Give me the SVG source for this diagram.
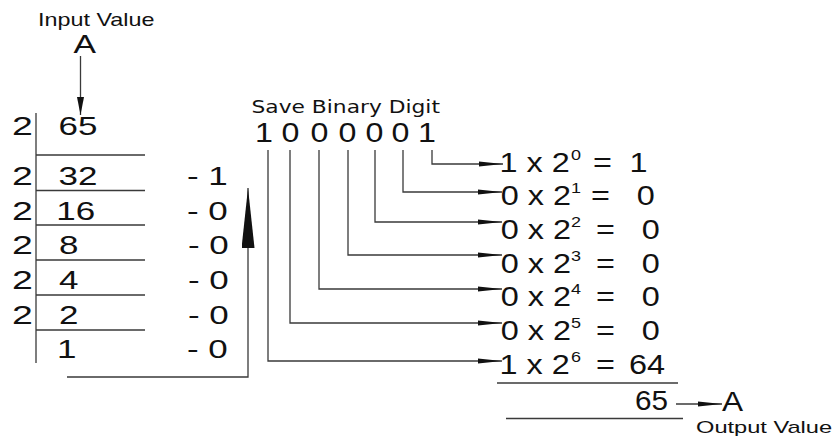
<svg xmlns="http://www.w3.org/2000/svg" width="836" height="438" viewBox="0 0 836 438">
  <style>
    .t { font-family: "Liberation Sans", Arial, Helvetica, sans-serif; fill: #111; }
    .dv { font-family: "DejaVu Sans", Verdana, sans-serif; fill: #111; font-size: 18px; }
    .lbl { font-size: 19px; }
    .lbl2 { font-size: 17px; }
    .big { font-size: 25px; }
    .eq { font-size: 27px; }
    .sup { font-size: 15px; }
    .rule { stroke: #3a3a3a; stroke-width: 1.3; fill: none; }
    .wire { stroke: #3a3a3a; stroke-width: 1.3; fill: none; }
  </style>
  <defs>
    <marker id="dart" viewBox="0 0 24 6" refX="24" refY="3" markerWidth="24" markerHeight="6" markerUnits="userSpaceOnUse" orient="auto">
      <path d="M0,0.4 L24,3 L0,5.6 Z" fill="#111"/>
    </marker>
    <marker id="drop" viewBox="0 0 18 8" refX="18" refY="4" markerWidth="18" markerHeight="8" markerUnits="userSpaceOnUse" orient="auto">
      <path d="M0,0.5 L18,4 L0,7.5 Z" fill="#111"/>
    </marker>
    <marker id="lift" viewBox="0 0 60 13" refX="60" refY="6.5" markerWidth="60" markerHeight="13" markerUnits="userSpaceOnUse" orient="auto">
      <path d="M0,0 L60,6.5 L0,13 Z" fill="#111"/>
    </marker>
  </defs>
  <rect width="836" height="438" fill="#fff"/>

  <!-- input label and value -->
  <g id="input">
    <text class="t lbl" transform="matrix(1.23 0 0 1 38 25.5)">Input Value</text>
    <text class="t big" transform="matrix(1.35 0 0 1 73.5 53)">A</text>
  </g>

  <!-- repeated division by 2 -->
  <g id="divisions" class="t big">
    <text transform="matrix(1.5 0 0 1 12 135)">2</text>
    <text transform="matrix(1.5 0 0 1 12 185)">2</text>
    <text transform="matrix(1.5 0 0 1 12 220)">2</text>
    <text transform="matrix(1.5 0 0 1 12 254)">2</text>
    <text transform="matrix(1.5 0 0 1 12 289)">2</text>
    <text transform="matrix(1.5 0 0 1 12 324)">2</text>
    <text transform="matrix(1.4 0 0 1 58.6 135)">65</text>
    <text transform="matrix(1.4 0 0 1 58.6 185)">32</text>
    <text transform="matrix(1.4 0 0 1 56.2 220)">16</text>
    <text transform="matrix(1.4 0 0 1 59 254)">8</text>
    <text transform="matrix(1.4 0 0 1 59 289)">4</text>
    <text transform="matrix(1.4 0 0 1 59 324)">2</text>
    <text transform="matrix(1.4 0 0 1 57 358)">1</text>
    <path class="rule" d="M36,113 V363 M36,155 H145 M36,190.5 H145 M36,225 H145 M36,260 H145 M36,295 H145 M36,330 H145"/>
  </g>

  <!-- remainders -->
  <g id="remainders" class="t big">
    <text transform="matrix(1.4 0 0 1 187 185)">- 1</text>
    <text transform="matrix(1.4 0 0 1 187 220)">- 0</text>
    <text transform="matrix(1.4 0 0 1 188 254)">- 0</text>
    <text transform="matrix(1.4 0 0 1 188 289)">- 0</text>
    <text transform="matrix(1.4 0 0 1 188 324)">- 0</text>
    <text transform="matrix(1.4 0 0 1 187 358)">- 0</text>
  </g>

  <!-- saved binary digits -->
  <g id="binary">
    <text class="dv" transform="matrix(1.21 0 0 1 251.5 113)">Save Binary Digit</text>
    <g class="t" font-size="28" text-anchor="middle">
      <text transform="matrix(1.15 0 0 1 264 142)">1</text>
      <text transform="matrix(1.15 0 0 1 290.5 142)">0</text>
      <text transform="matrix(1.15 0 0 1 319.5 142)">0</text>
      <text transform="matrix(1.15 0 0 1 347.5 142)">0</text>
      <text transform="matrix(1.15 0 0 1 374.5 142)">0</text>
      <text transform="matrix(1.15 0 0 1 400.5 142)">0</text>
      <text transform="matrix(1.15 0 0 1 427 142)">1</text>
    </g>
  </g>

  <!-- place values -->
  <g id="eq-0" class="t">
    <text class="eq" transform="matrix(1.2 0 0 1 499.5 172)">1 x 2</text>
    <text class="sup" transform="matrix(1.2 0 0 1 571 160)">0</text>
    <text class="eq" transform="matrix(1.2 0 0 1 593 172)">=</text>
    <text class="eq" transform="matrix(1.2 0 0 1 629.5 172)">1</text>
  </g>
  <g id="eq-1" class="t">
    <text class="eq" transform="matrix(1.2 0 0 1 500.7 204.5)">0 x 2</text>
    <text class="sup" transform="matrix(1.2 0 0 1 571 192.5)">1</text>
    <text class="eq" transform="matrix(1.2 0 0 1 591 204.5)">=</text>
    <text class="eq" transform="matrix(1.2 0 0 1 636.7 204.5)">0</text>
  </g>
  <g id="eq-2" class="t">
    <text class="eq" transform="matrix(1.2 0 0 1 500.7 239)">0 x 2</text>
    <text class="sup" transform="matrix(1.2 0 0 1 571 227)">2</text>
    <text class="eq" transform="matrix(1.2 0 0 1 596 239)">=</text>
    <text class="eq" transform="matrix(1.2 0 0 1 641.7 239)">0</text>
  </g>
  <g id="eq-3" class="t">
    <text class="eq" transform="matrix(1.2 0 0 1 500.7 272.5)">0 x 2</text>
    <text class="sup" transform="matrix(1.2 0 0 1 571 260.5)">3</text>
    <text class="eq" transform="matrix(1.2 0 0 1 596 272.5)">=</text>
    <text class="eq" transform="matrix(1.2 0 0 1 641.7 272.5)">0</text>
  </g>
  <g id="eq-4" class="t">
    <text class="eq" transform="matrix(1.2 0 0 1 500.7 306)">0 x 2</text>
    <text class="sup" transform="matrix(1.2 0 0 1 571 294)">4</text>
    <text class="eq" transform="matrix(1.2 0 0 1 596 306)">=</text>
    <text class="eq" transform="matrix(1.2 0 0 1 641.7 306)">0</text>
  </g>
  <g id="eq-5" class="t">
    <text class="eq" transform="matrix(1.2 0 0 1 500.7 339.5)">0 x 2</text>
    <text class="sup" transform="matrix(1.2 0 0 1 571 327.5)">5</text>
    <text class="eq" transform="matrix(1.2 0 0 1 596 339.5)">=</text>
    <text class="eq" transform="matrix(1.2 0 0 1 641.7 339.5)">0</text>
  </g>
  <g id="eq-6" class="t">
    <text class="eq" transform="matrix(1.2 0 0 1 499.5 374)">1 x 2</text>
    <text class="sup" transform="matrix(1.2 0 0 1 571 362)">6</text>
    <text class="eq" transform="matrix(1.2 0 0 1 596 374)">=</text>
    <text class="eq" transform="matrix(1.2 0 0 1 629 374)">64</text>
  </g>

  <!-- total and output -->
  <g id="total" class="t">
    <path class="rule" d="M497,383 H678"/>
    <text class="eq" transform="matrix(1.1 0 0 1 635 410)">65</text>
    <path class="rule" d="M506,418.5 H683"/>
  </g>
  <g id="output" class="t">
    <text class="eq" transform="matrix(1.17 0 0 1 722 411)">A</text>
    <text class="lbl2" transform="matrix(1.39 0 0 1 696 433)">Output Value</text>
  </g>

  <!-- connectors -->
  <g id="connectors" class="wire">
    <path d="M80.5,56 V115" marker-end="url(#drop)"/>
    <path d="M67,377 H248 V188" marker-end="url(#lift)"/>
    <path d="M432,150 V164 H503" marker-end="url(#dart)"/>
    <path d="M403,150 V192 H502" marker-end="url(#dart)"/>
    <path d="M375,150 V222 H502" marker-end="url(#dart)"/>
    <path d="M348,150 V255 H502" marker-end="url(#dart)"/>
    <path d="M319,150 V289 H502" marker-end="url(#dart)"/>
    <path d="M290,150 V323 H502" marker-end="url(#dart)"/>
    <path d="M268,150 V361 H502" marker-end="url(#dart)"/>
    <path d="M676,404 H722" marker-end="url(#dart)"/>
  </g>
</svg>
